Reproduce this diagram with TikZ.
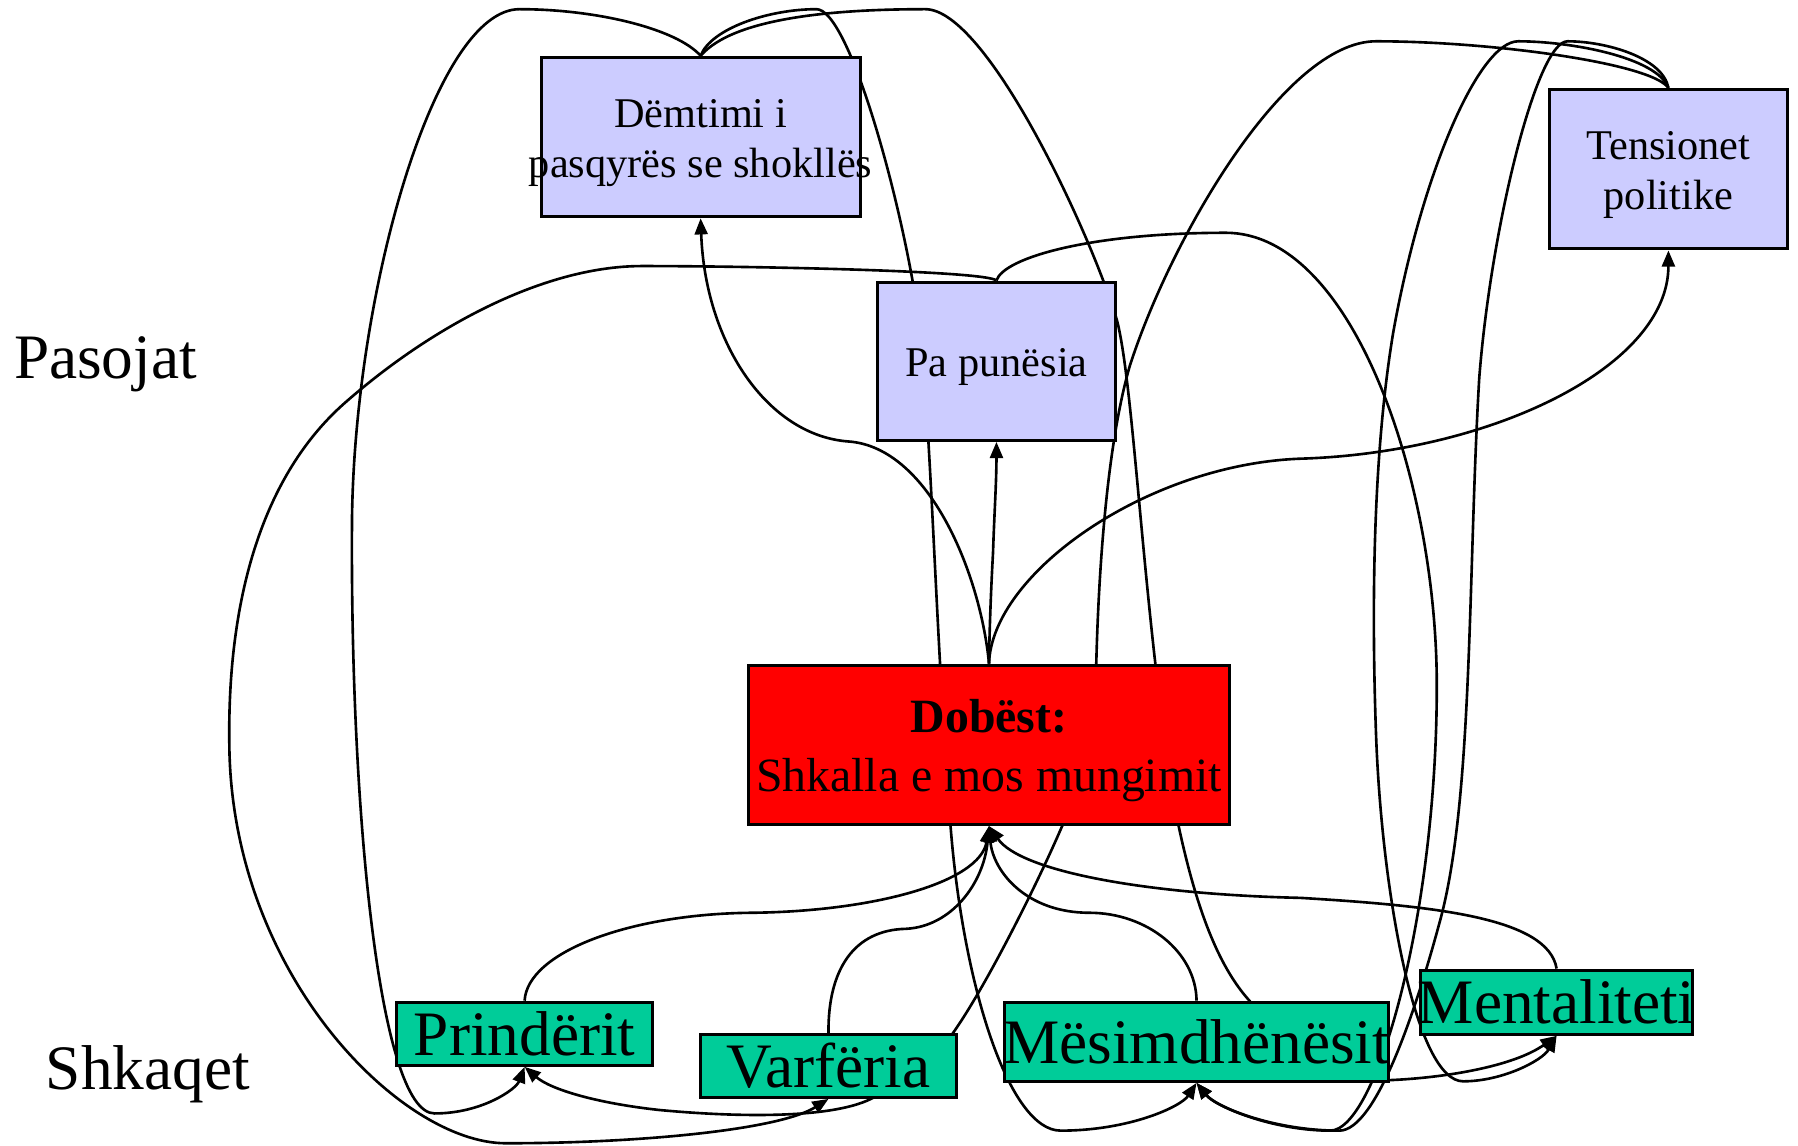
\documentclass[tikz,border=0pt]{standalone}
\usepackage{fontspec}
\setmainfont{Liberation Serif}
\usepackage{tikz}
\usetikzlibrary{arrows.meta,backgrounds}
\definecolor{effectblue}{HTML}{CCCCFF}
\definecolor{causegreen}{HTML}{00CC99}
\newcommand{\boxtext}[1]{\makebox[0pt]{\raisebox{-1.4pt}[\height][\depth]{\begin{tabular}{@{}c@{}}#1\end{tabular}}}}
\newcommand{\linetext}[1]{\makebox[0pt]{#1}}
\tikzset{
  box/.style={draw, line width=0.75pt, inner sep=0pt},
  effect/.style={box, fill=effectblue, font=\fontsize{10.5}{12.4}\selectfont},
  cause/.style={box, fill=causegreen, font=\fontsize{15.7}{18}\selectfont},
  core/.style={box, fill=red, font=\fontsize{11.85}{14.5}\selectfont},
  side/.style={anchor=base, font=\fontsize{15.7}{18}\selectfont},
  link/.style={line width=0.65pt, -{Triangle[length=4pt,width=3.2pt]}}
}
\begin{document}
\begin{tikzpicture}[x=0.01cm, y=-0.01cm]
      \useasboundingbox (0,0) rectangle (1568,999);
      \node[side] (effects) at (92,330) {Pasojat};
      \node[side] (causes) at (129,950) {Shkaqet};
      \node[effect, minimum width=2.78cm, minimum height=1.39cm] (dem) at (611,119.5) {\boxtext{Dëmtimi i\\pasqyrës se shokllës}};
      \node[effect, minimum width=2.08cm, minimum height=1.38cm] (pun) at (869,315) {\boxtext{Pa punësia}};
      \node[effect, minimum width=2.08cm, minimum height=1.39cm] (ten) at (1455,147.5) {\boxtext{Tensionet\\politike}};
      \node[core, minimum width=4.19cm, minimum height=1.39cm] (dob) at (862.5,649.5) {\boxtext{\textbf{Dobëst:}\\Shkalla e mos mungimit}};
      \node[cause, minimum width=2.23cm, minimum height=0.55cm] (pri) at (457.5,901.5) {\linetext{Prindërit}};
      \node[cause, minimum width=2.23cm, minimum height=0.55cm] (var) at (722.5,929.5) {\linetext{Varfëria}};
      \node[cause, minimum width=3.35cm, minimum height=0.69cm] (mes) at (1043.5,908.5) {\linetext{Mësimdhënësit}};
      \node[cause, minimum width=2.37cm, minimum height=0.56cm] (men) at (1357.5,874) {\linetext{Mentaliteti}};
      \begin{scope}[on background layer]
        \draw[link] (dob.north) .. controls (855,500) and (810,390) .. (740,385) .. controls (670,380) and (615,300) .. (dem.south);
        \draw[link] (dob.north) .. controls (863,540) and (865,500) .. (866,482) .. controls (867,450) and (869,420) .. (pun.south);
        \draw[link] (dob.north) .. controls (865,500) and (1000,405) .. (1134,400) .. controls (1300,395) and (1455,320) .. (ten.south);
        \draw[link] (pri.north) .. controls (460,830) and (550,797) .. (655,796) .. controls (760,795) and (855,770) .. (dob.south);
        \draw[link] (var.north) .. controls (722,845) and (745,811) .. (790,810) .. controls (830,808) and (858,770) .. (dob.south);
        \draw[link] (mes.north) .. controls (1043,830) and (1000,796) .. (950,796) .. controls (895,796) and (866,760) .. (dob.south);
        \draw[link] (men.north) .. controls (1350,800) and (1250,790) .. (1134,783) .. controls (1000,780) and (890,760) .. (dob.south);
        \draw[link] (dem.north) .. controls (590,25) and (520,8) .. (453,8) .. controls (380,8) and (310,250) .. (307,450)
          .. controls (305,700) and (330,971) .. (379,971) .. controls (420,971) and (450,950) .. (pri.south);
        \draw[link] (dem.north) .. controls (620,25) and (670,8) .. (712,8) .. controls (740,8) and (785,170) .. (800,270)
          .. controls (812,360) and (815,540) .. (829,721) .. controls (840,860) and (880,986) .. (925,986)
          .. controls (985,986) and (1030,965) .. (mes.south);
        \draw[link] (dem.north) .. controls (640,15) and (730,8) .. (807,8) .. controls (860,8) and (950,200) .. (974,279)
          .. controls (990,340) and (998,560) .. (1028,721) .. controls (1045,800) and (1065,845) .. (1089,872)
          .. controls (1130,920) and (1180,942) .. (1211,942) .. controls (1260,940) and (1320,930) .. (men.south);
        \draw[link] (pun.north) .. controls (860,236) and (650,232) .. (560,232) .. controls (470,232) and (370,290) .. (300,352)
          .. controls (230,414) and (198,520) .. (200,650) .. controls (202,850) and (350,997) .. (441,997)
          .. controls (560,997) and (680,985) .. (var.south);
        \draw[link] (pun.north) .. controls (875,225) and (950,203) .. (1069,203) .. controls (1180,203) and (1253,420) .. (1253,598)
          .. controls (1253,800) and (1200,986) .. (1160,986) .. controls (1110,986) and (1060,965) .. (mes.south);
        \draw[link] (ten.north) .. controls (1440,55) and (1300,36) .. (1200,36) .. controls (1120,36) and (1020,210) .. (985,320)
          .. controls (965,390) and (958,500) .. (956,580) .. controls (954,660) and (940,690) .. (926,721)
          .. controls (905,770) and (860,860) .. (831,901) .. controls (810,930) and (790,950) .. (762,957)
          .. controls (730,975) and (650,975) .. (575,968) .. controls (520,962) and (480,950) .. (pri.south);
        \draw[link] (ten.north) .. controls (1445,50) and (1370,36) .. (1324,36) .. controls (1290,36) and (1240,150) .. (1215,290)
          .. controls (1200,380) and (1195,500) .. (1200,640) .. controls (1205,780) and (1235,943) .. (1276,943)
          .. controls (1310,943) and (1345,925) .. (men.south);
        \draw[link] (ten.north) .. controls (1450,50) and (1400,36) .. (1367,36) .. controls (1340,36) and (1300,200) .. (1290,330)
          .. controls (1280,500) and (1285,700) .. (1255,806) .. controls (1235,880) and (1200,986) .. (1168,986)
          .. controls (1110,986) and (1060,965) .. (mes.south);
      \end{scope}
    \end{tikzpicture}
\end{document}
